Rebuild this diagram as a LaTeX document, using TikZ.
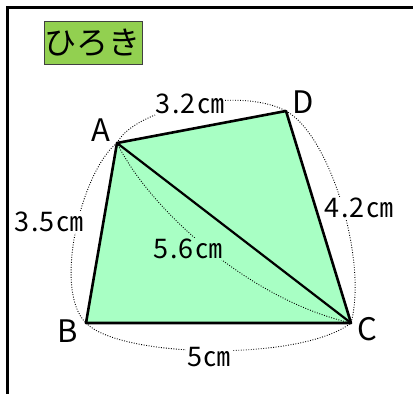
\documentclass[tikz,border=0pt]{standalone}
\usepackage{fontspec}
\newfontfamily\jpfont{Noto Sans CJK JP}
\newfontfamily\lenfont[LetterSpace=5]{Noto Sans CJK JP}
\definecolor{quadfill}{HTML}{A8FFC4}
\definecolor{tagfill}{HTML}{92D050}
\begin{document}
\begin{tikzpicture}[x=1pt,y=-1pt,
  frame/.style={line width=2.6pt},
  edge/.style={line width=2.6pt, line join=round},
  diag/.style={line width=2.2pt},
  dotarc/.style={line width=0.9pt, dash pattern=on 0.9pt off 1.6pt},
  lenlabel/.style={font=\lenfont\fontsize{27}{27}\selectfont, inner sep=1pt, fill=white},
  vtxlabel/.style={font=\jpfont\fontsize{31}{31}\selectfont, inner sep=0pt},
  tagbox/.style={draw=black!75, line width=0.8pt, fill=tagfill, minimum width=98pt, minimum height=43pt, inner sep=0pt, font=\jpfont\fontsize{32}{32}\selectfont}
]
\useasboundingbox (0,0) rectangle (413,394);
\fill[white] (0,0) rectangle (413,394);
\draw[frame] (7.5,394) -- (7.5,7.5) -- (413,7.5);

\node[tagbox] (tag) at (93,42.5) {ひろき};

\coordinate (A) at (117,143);
\coordinate (D) at (286,111);
\coordinate (C) at (351,323);
\coordinate (B) at (86,323);

\fill[quadfill] (A) -- (D) -- (C) -- (B) -- cycle;

\draw[dotarc] (A) .. controls (135,108) and (240,86) .. (D);
\draw[dotarc] (D) .. controls (330,135) and (368,260) .. (C);
\draw[dotarc] (A) .. controls (82,170) and (52,290) .. (B);
\draw[dotarc] (B) .. controls (120,358) and (300,362) .. (C);
\draw[dotarc] (A) .. controls (150,210) and (250,300) .. (C);

\node[lenlabel] (l32) at (190,104) {3.2㎝};
\node[lenlabel] (l42) at (359,208) {4.2㎝};
\node[lenlabel] (l35) at (49,222) {3.5㎝};
\node[lenlabel, fill=quadfill] (l56) at (188,249) {5.6㎝};
\node[lenlabel] (l5) at (209,357) {5㎝};

\draw[edge] (A) -- (D) -- (C) -- (B) -- cycle;
\draw[diag] (A) -- (C);

\node[vtxlabel] (nA) at (101,130) {A};
\node[vtxlabel] (nD) at (303,102) {D};
\node[vtxlabel] (nB) at (68,331) {B};
\node[vtxlabel] (nC) at (367,329) {C};
\end{tikzpicture}
\end{document}
